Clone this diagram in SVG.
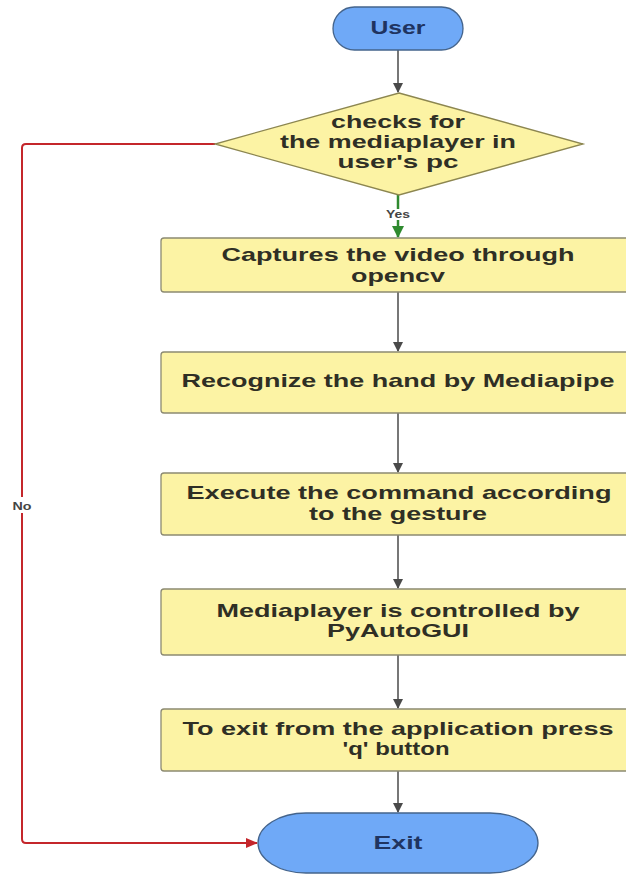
<svg xmlns="http://www.w3.org/2000/svg" width="626" height="875" viewBox="0 0 626 875">
<style>
.bg{fill:#ffffff}
.term{fill:#6fa9f7;stroke:#44648c;stroke-width:1.3}
.proc{fill:#fcf3a4;stroke:#8c8a72;stroke-width:1.3}
.dec{fill:#fcf3a4;stroke:#8c8650;stroke-width:1.3}
.t{font-family:"Liberation Sans",Arial,sans-serif;font-weight:bold;font-size:19px;fill:#2f2f25;text-anchor:middle}
.tt{font-family:"Liberation Sans",Arial,sans-serif;font-weight:bold;font-size:18px;fill:#1f3460;text-anchor:middle}
.lbl{font-family:"Liberation Sans",Arial,sans-serif;font-weight:bold;font-size:10px;fill:#444;text-anchor:middle}
.ln{fill:none;stroke:#4a4a4a;stroke-width:1.5}
.red{fill:none;stroke:#c4262b;stroke-width:2}
.grn{fill:none;stroke:#2f8a2f;stroke-width:2.5}
</style>
<defs>
<marker id="ag" markerWidth="10" markerHeight="10" refX="9" refY="5" orient="auto" markerUnits="userSpaceOnUse"><path d="M0,0 L10,5 L0,10 Z" fill="#4a4a4a"/></marker>
<marker id="ar" markerWidth="12" markerHeight="10" refX="11" refY="5" orient="auto" markerUnits="userSpaceOnUse"><path d="M0,0 L12,5 L0,10 Z" fill="#c4262b"/></marker>
<marker id="agr" markerWidth="12" markerHeight="12" refX="11" refY="6" orient="auto" markerUnits="userSpaceOnUse"><path d="M0,0 L12,6 L0,12 Z" fill="#2f8a2f"/></marker>
</defs>
<rect class="bg" x="0" y="0" width="626" height="875"/>
<g id="connectors">
<line class="ln" x1="398" y1="50" x2="398" y2="92" marker-end="url(#ag)"/>
<line class="grn" x1="398" y1="195" x2="398" y2="237" marker-end="url(#agr)"/>
<rect x="384" y="209" width="28" height="11" fill="#ffffff"/>
<text class="lbl" x="398" y="218" textLength="24" lengthAdjust="spacingAndGlyphs">Yes</text>
<line class="ln" x1="398" y1="292" x2="398" y2="351" marker-end="url(#ag)"/>
<line class="ln" x1="398" y1="413" x2="398" y2="472" marker-end="url(#ag)"/>
<line class="ln" x1="398" y1="535" x2="398" y2="588" marker-end="url(#ag)"/>
<line class="ln" x1="398" y1="655" x2="398" y2="708" marker-end="url(#ag)"/>
<line class="ln" x1="398" y1="771" x2="398" y2="812" marker-end="url(#ag)"/>
<path class="red" d="M215,144 L26,144 Q22,144 22,148 L22,839 Q22,843 26,843 L257,843" marker-end="url(#ar)"/>
<rect x="10" y="497" width="26" height="16" fill="#ffffff"/>
<text class="lbl" x="22" y="510" textLength="19" lengthAdjust="spacingAndGlyphs">No</text>
</g>
<g id="user">
<rect class="term" x="333" y="7" width="130" height="43" rx="21.5"/>
<text class="tt" x="398" y="34" textLength="55" lengthAdjust="spacingAndGlyphs">User</text>
</g>
<g id="check">
<polygon class="dec" points="399,93 583,144 399,195 215,144"/>
<text class="t" x="398" y="128" textLength="134" lengthAdjust="spacingAndGlyphs">checks for</text>
<text class="t" x="398" y="148" textLength="236" lengthAdjust="spacingAndGlyphs">the mediaplayer in</text>
<text class="t" x="398" y="168" textLength="121" lengthAdjust="spacingAndGlyphs">user's pc</text>
</g>
<g id="capture">
<rect class="proc" x="161" y="238" width="476" height="54" rx="3"/>
<text class="t" x="398" y="261" textLength="353" lengthAdjust="spacingAndGlyphs">Captures the video through</text>
<text class="t" x="398" y="282" textLength="94" lengthAdjust="spacingAndGlyphs">opencv</text>
</g>
<g id="recognize">
<rect class="proc" x="161" y="352" width="476" height="61" rx="3"/>
<text class="t" x="398" y="387" textLength="433" lengthAdjust="spacingAndGlyphs">Recognize the hand by Mediapipe</text>
</g>
<g id="execute">
<rect class="proc" x="161" y="473" width="476" height="62" rx="3"/>
<text class="t" x="399" y="499" textLength="425" lengthAdjust="spacingAndGlyphs">Execute the command according</text>
<text class="t" x="398" y="520" textLength="178" lengthAdjust="spacingAndGlyphs">to the gesture</text>
</g>
<g id="control">
<rect class="proc" x="161" y="589" width="476" height="66" rx="3"/>
<text class="t" x="398" y="617" textLength="363" lengthAdjust="spacingAndGlyphs">Mediaplayer is controlled by</text>
<text class="t" x="398" y="637" textLength="142" lengthAdjust="spacingAndGlyphs">PyAutoGUI</text>
</g>
<g id="exitcmd">
<rect class="proc" x="161" y="709" width="476" height="62" rx="3"/>
<text class="t" x="398" y="735" textLength="431" lengthAdjust="spacingAndGlyphs">To exit from the application press</text>
<text class="t" x="396" y="755" textLength="107" lengthAdjust="spacingAndGlyphs">'q' button</text>
</g>
<g id="exit">
<rect class="term" x="258" y="813" width="280" height="60" rx="48" ry="30"/>
<text class="tt" x="398" y="849" textLength="49" lengthAdjust="spacingAndGlyphs" style="font-size:19px">Exit</text>
</g>
</svg>
